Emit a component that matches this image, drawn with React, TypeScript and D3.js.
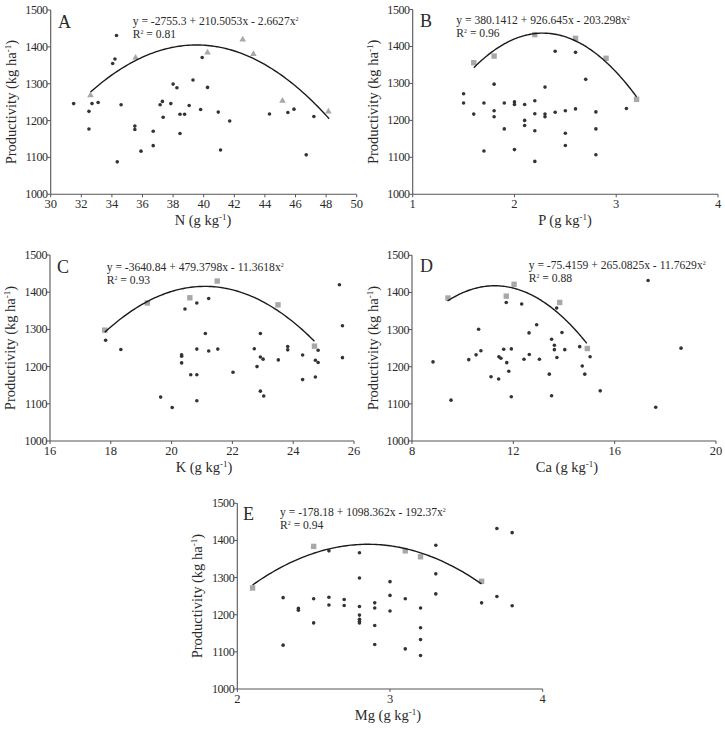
import React from "react";
import * as d3 from "d3";

// ---------- DATA ----------
const yTicks = [1000, 1100, 1200, 1300, 1400, 1500];

// Panel A (N)
const nDotsX = [31.5, 32.5, 32.5, 32.7, 33.1, 34.05, 34.2, 34.3, 34.35, 34.6, 35.5, 35.5, 35.9, 36.7, 36.7, 37.15, 37.3, 37.35, 37.85, 38.0, 38.25, 38.45, 38.45, 38.75, 39.05, 39.3, 39.8, 39.9, 40.25, 40.95, 41.1, 41.7, 44.3, 45.5, 45.9, 46.7, 47.2];
const nDotsY = [1246, 1225, 1177, 1246, 1249, 1355, 1367, 1431, 1088, 1243, 1185, 1176, 1117, 1171, 1132, 1243, 1252, 1209, 1246, 1299, 1289, 1217, 1165, 1217, 1241, 1310, 1230, 1371, 1290, 1223, 1120, 1199, 1218, 1222, 1231, 1107, 1211];
const nHiX = [32.6, 35.55, 40.25, 42.55, 43.25, 45.15, 48.15];
const nHiY = [1270, 1372, 1386, 1421, 1382, 1255, 1226];
const nCoef = [-2755.3, 210.5053, -2.6627];
const nXTicks = [30, 32, 34, 36, 38, 40, 42, 44, 46, 48, 50];

// Panel B (P)
const pDotsX = [1.5, 1.5, 1.6, 1.7, 1.7, 1.8, 1.8, 1.8, 1.9, 1.9, 2.0, 2.0, 2.0, 2.1, 2.1, 2.1, 2.2, 2.2, 2.2, 2.2, 2.3, 2.3, 2.3, 2.4, 2.4, 2.5, 2.5, 2.5, 2.6, 2.6, 2.7, 2.8, 2.8, 2.8, 3.1];
const pDotsY = [1272, 1247, 1217, 1117, 1247, 1298, 1226, 1210, 1247, 1177, 1250, 1243, 1121, 1243, 1200, 1186, 1253, 1218, 1172, 1089, 1290, 1217, 1210, 1387, 1222, 1226, 1165, 1132, 1384, 1231, 1311, 1223, 1177, 1107, 1232];
const pHiX = [1.6, 1.8, 2.2, 2.6, 2.9, 3.2];
const pHiY = [1356, 1374, 1432, 1422, 1368, 1257];
const pCoef = [380.1412, 926.645, -203.298];
const pXTicks = [1, 2, 3, 4];

// Panel C (K)
const kDotsX = [17.83, 18.33, 19.64, 20.02, 20.33, 20.33, 20.33, 20.44, 20.63, 20.83, 20.83, 20.83, 20.83, 21.11, 21.22, 21.22, 21.52, 22.02, 22.72, 22.81, 22.92, 22.92, 22.92, 23.01, 23.03, 23.51, 23.82, 23.82, 24.31, 24.31, 24.73, 24.73, 24.82, 24.82, 25.52, 25.62, 25.62];
const kDotsY = [1271, 1246, 1118, 1090, 1232, 1228, 1210, 1355, 1178, 1371, 1247, 1178, 1108, 1289, 1383, 1242, 1247, 1185, 1248, 1200, 1289, 1226, 1134, 1220, 1121, 1218, 1254, 1245, 1231, 1165, 1217, 1172, 1244, 1211, 1420, 1310, 1224];
const kHiX = [17.8, 19.2, 20.6, 21.5, 23.5, 24.7];
const kHiY = [1298, 1371, 1385, 1430, 1366, 1255];
const kCoef = [-3640.84, 479.3798, -11.3618];
const kXTicks = [16, 18, 20, 22, 24, 26];

// Panel D (Ca)
const caDotsX = [8.83, 9.54, 10.24, 10.53, 10.63, 10.72, 11.12, 11.42, 11.43, 11.51, 11.62, 11.72, 11.74, 11.82, 11.92, 11.92, 12.33, 12.42, 12.62, 12.63, 12.92, 13.03, 13.42, 13.51, 13.51, 13.62, 13.62, 13.71, 13.72, 13.92, 14.03, 14.62, 14.72, 14.82, 15.03, 15.43, 17.32, 17.62, 18.62];
const caDotsY = [1213, 1110, 1219, 1232, 1301, 1243, 1173, 1167, 1227, 1223, 1247, 1373, 1211, 1188, 1248, 1119, 1369, 1220, 1291, 1233, 1313, 1220, 1180, 1274, 1122, 1258, 1246, 1358, 1225, 1292, 1246, 1254, 1202, 1180, 1227, 1135, 1432, 1091, 1250];
const caHiX = [9.42, 11.72, 12.03, 13.83, 14.92];
const caHiY = [1385, 1390, 1422, 1373, 1249];
const caCoef = [-75.4159, 265.0825, -11.7629];
const caXTicks = [8, 12, 16, 20];

// Panel E (Mg)
const mgDotsX = [2.3, 2.3, 2.4, 2.4, 2.5, 2.5, 2.6, 2.6, 2.6, 2.7, 2.7, 2.8, 2.8, 2.8, 2.8, 2.8, 2.8, 2.8, 2.9, 2.9, 2.9, 2.9, 3.0, 3.0, 3.0, 3.1, 3.1, 3.2, 3.2, 3.2, 3.2, 3.3, 3.3, 3.3, 3.6, 3.7, 3.7, 3.8, 3.8];
const mgDotsY = [1246, 1118, 1217, 1212, 1243, 1178, 1247, 1372, 1226, 1241, 1225, 1367, 1299, 1222, 1199, 1188, 1182, 1178, 1232, 1218, 1171, 1120, 1289, 1252, 1210, 1243, 1108, 1218, 1165, 1133, 1090, 1387, 1310, 1256, 1232, 1432, 1249, 1421, 1224];
const mgHiX = [2.1, 2.5, 3.1, 3.2, 3.6];
const mgHiY = [1272, 1384, 1372, 1356, 1290];
const mgCoef = [-178.18, 1098.362, -192.37];
const mgXTicks = [2, 3, 4];

const FONT = "'Liberation Serif', 'DejaVu Serif', serif";
const TXT = "#2a2a2a";
const AXIS = "#555";
const DOT = "#333";
const HI = "#a8a8a8";

type PanelProps = {
  letter: string;
  dx: number[]; dy: number[];
  hx: number[]; hy: number[];
  coef: number[];
  xTicks: number[];
  curve: [number, number];
  marker: "tri" | "sq";
  x0: number; x1: number; yTop: number; yBot: number;
  eqX: number; eqY: number; eq: string; r2: string;
  xLab: string; xLabX: number; xLabY: number;
  yLabX: number;
  letterX: number; letterY: number;
};

function Panel(p: PanelProps) {
  const xs = d3.scaleLinear().domain([p.xTicks[0], p.xTicks[p.xTicks.length - 1]]).range([p.x0, p.x1]);
  const ys = d3.scaleLinear().domain([1000, 1500]).range([p.yBot, p.yTop]);
  const f = (x: number) => p.coef[0] + p.coef[1] * x + p.coef[2] * x * x;
  const pts = d3.range(0, 101).map((i) => p.curve[0] + ((p.curve[1] - p.curve[0]) * i) / 100);
  const line = d3.line<number>().x((x) => xs(x)).y((x) => ys(f(x))).curve(d3.curveLinear);
  const yMid = (p.yTop + p.yBot) / 2;
  return (
    <g fontFamily={FONT} fill={TXT}>
      {/* axes */}
      <line x1={p.x0} x2={p.x0} y1={p.yTop} y2={p.yBot} stroke={AXIS} strokeWidth={1.1} />
      <line x1={p.x0} x2={p.x1} y1={p.yBot} y2={p.yBot} stroke={AXIS} strokeWidth={1.1} />
      {yTicks.map((t) => (
        <g key={"y" + t}>
          <line x1={p.x0 - 3} x2={p.x0} y1={ys(t)} y2={ys(t)} stroke={AXIS} strokeWidth={1} />
          <text x={p.x0 - 3} y={ys(t) + 4} textAnchor="end" fontSize={12} letterSpacing={-0.4}>{t}</text>
        </g>
      ))}
      {p.xTicks.map((t) => (
        <g key={"x" + t}>
          <line x1={xs(t)} x2={xs(t)} y1={p.yBot} y2={p.yBot + 3} stroke={AXIS} strokeWidth={1} />
          <text x={xs(t)} y={p.yBot + 14} textAnchor="middle" fontSize={12.5}>{t}</text>
        </g>
      ))}
      {/* y title */}
      <text transform={`translate(${p.yLabX},${yMid}) rotate(-90)`} textAnchor="middle" fontSize={14.5}>
        Productivity (kg ha<tspan dy={-5} fontSize={9}>-1</tspan><tspan dy={5}>)</tspan>
      </text>
      {/* x title */}
      <text x={p.xLabX} y={p.xLabY} textAnchor="middle" fontSize={14.5}>
        {p.xLab} (g kg<tspan dy={-5} fontSize={9}>-1</tspan><tspan dy={5}>)</tspan>
      </text>
      {/* letter */}
      <text x={p.letterX} y={p.letterY} fontSize={18}>{p.letter}</text>
      {/* equation */}
      <text x={p.eqX} y={p.eqY - 0.6} fontSize={11.6}>
        {p.eq}<tspan dy={-4} fontSize={6}>2</tspan>
      </text>
      {/* R² */}
      <text x={p.eqX} y={p.eqY + 12.4} fontSize={11.6}>
        R<tspan dy={-4} fontSize={6}>2</tspan><tspan dy={4}>{" = " + p.r2}</tspan>
      </text>
      {/* dots */}
      {p.dx.map((x, i) => (
        <circle key={"d" + i} cx={xs(x)} cy={ys(p.dy[i])} r={1.8} fill={DOT} />
      ))}
      {/* highlighted */}
      {p.hx.map((x, i) => {
        const cx = xs(x), cy = ys(p.hy[i]);
        return p.marker === "sq" ? (
          <rect key={"h" + i} x={cx - 2.7} y={cy - 2.7} width={5.4} height={5.4} fill={HI} />
        ) : (
          <path key={"h" + i} d={`M${cx},${cy - 3.3}L${cx + 3.3},${cy + 2.4}L${cx - 3.3},${cy + 2.4}Z`} fill={HI} />
        );
      })}
      {/* curve */}
      <path d={line(pts) || ""} fill="none" stroke="#1a1a1a" strokeWidth={1.4} />
    </g>
  );
}

export default function App() {
  return (
    <svg width={725} height={748} style={{ display: "block", position: "absolute", left: 0, top: 0, background: "#fff" }}>
      <Panel letter="A" dx={nDotsX} dy={nDotsY} hx={nHiX} hy={nHiY} coef={nCoef} xTicks={nXTicks}
        curve={[32.6, 48.2]} marker="tri" x0={50.7} x1={356.7} yTop={10} yBot={194.3}
        eqX={132.7} eqY={26} eq="y = -2755.3 + 210.5053x - 2.6627x" r2="0.81"
        xLab="N" xLabX={203} xLabY={225} yLabX={16} letterX={58} letterY={28} />
      <Panel letter="B" dx={pDotsX} dy={pDotsY} hx={pHiX} hy={pHiY} coef={pCoef} xTicks={pXTicks}
        curve={[1.6, 3.2]} marker="sq" x0={412.7} x1={718} yTop={9.5} yBot={194.3}
        eqX={456.3} eqY={25} eq="y = 380.1412 + 926.645x - 203.298x" r2="0.96"
        xLab="P" xLabX={565} xLabY={225} yLabX={378} letterX={420} letterY={27} />
      <Panel letter="C" dx={kDotsX} dy={kDotsY} hx={kHiX} hy={kHiY} coef={kCoef} xTicks={kXTicks}
        curve={[17.8, 24.7]} marker="sq" x0={50} x1={354} yTop={255} yBot={441}
        eqX={106.7} eqY={272} eq="y = -3640.84 + 479.3798x - 11.3618x" r2="0.93"
        xLab="K" xLabX={204} xLabY={472} yLabX={15} letterX={57} letterY={273} />
      <Panel letter="D" dx={caDotsX} dy={caDotsY} hx={caHiX} hy={caHiY} coef={caCoef} xTicks={caXTicks}
        curve={[9.4, 14.9]} marker="sq" x0={412} x1={716} yTop={255.3} yBot={441}
        eqX={528.7} eqY={269.5} eq="y = -75.4159 + 265.0825x - 11.7629x" r2="0.88"
        xLab="Ca" xLabX={567} xLabY={472} yLabX={378} letterX={420} letterY={272} />
      <Panel letter="E" dx={mgDotsX} dy={mgDotsY} hx={mgHiX} hy={mgHiY} coef={mgCoef} xTicks={mgXTicks}
        curve={[2.1, 3.6]} marker="sq" x0={237.3} x1={542.7} yTop={503.3} yBot={689}
        eqX={280} eqY={517} eq="y = -178.18 + 1098.362x - 192.37x" r2="0.94"
        xLab="Mg" xLabX={388} xLabY={720} yLabX={202} letterX={243} letterY={520} />
    </svg>
  );
}
